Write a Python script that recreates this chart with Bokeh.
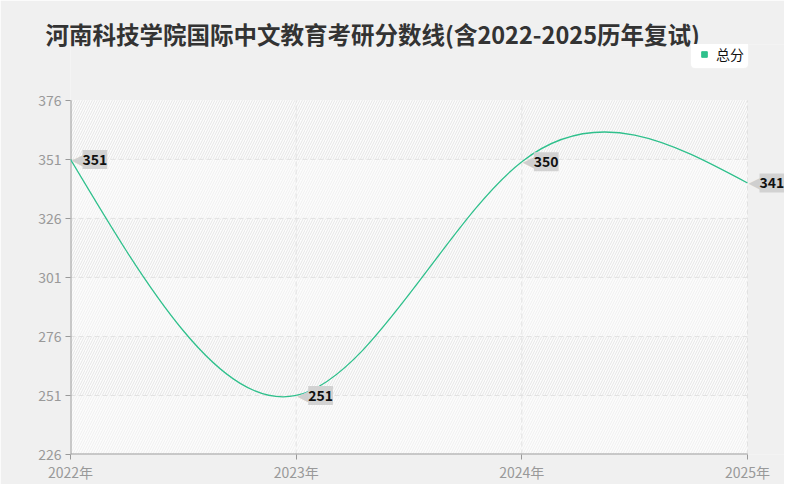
import numpy as np
from bokeh.embed import file_html
from bokeh.models import FixedTicker, Label, Legend, LegendItem, Range1d, Title
from bokeh.plotting import figure
from bokeh.resources import INLINE

TITLE = "河南科技学院国际中文教育考研分数线(含2022-2025历年复试)"
SERIES_NAME = "总分"
years = [2022, 2023, 2024, 2025]
year_labels = ["2022年", "2023年", "2024年", "2025年"]
scores = [351, 251, 350, 341]
y_ticks = [226, 251, 276, 301, 326, 351, 376]

FONT = "Noto Sans CJK SC"
GREEN = "#2fc08c"
AXIS = "#999999"
GRID = "#e2e2e2"
W, H = 784, 484
LEFT, BOTTOM = 70, 29
FRAME_TOP = 44      # frame reaches up to hold the legend
PLOT_TOP = 100      # where the top tick sits
PLOT_W = 677        # pixels from first to last year


def natural_spline_beziers(xs, ys):
    """Cubic Bezier pieces of the natural cubic spline through (xs, ys)."""
    xs = np.asarray(xs, dtype=float)
    ys = np.asarray(ys, dtype=float)
    n = len(xs)
    h = np.diff(xs)
    a = np.zeros((n, n))
    b = np.zeros(n)
    a[0, 0] = a[-1, -1] = 1.0
    for i in range(1, n - 1):
        a[i, i - 1] = h[i - 1]
        a[i, i] = 2 * (h[i - 1] + h[i])
        a[i, i + 1] = h[i]
        b[i] = 6 * ((ys[i + 1] - ys[i]) / h[i] - (ys[i] - ys[i - 1]) / h[i - 1])
    m = np.linalg.solve(a, b)
    out = {k: [] for k in ("x0", "y0", "x1", "y1", "cx0", "cy0", "cx1", "cy1")}
    for i in range(n - 1):
        slope = (ys[i + 1] - ys[i]) / h[i]
        d0 = slope - h[i] * (2 * m[i] + m[i + 1]) / 6
        d1 = slope + h[i] * (m[i] + 2 * m[i + 1]) / 6
        out["x0"].append(xs[i])
        out["y0"].append(ys[i])
        out["x1"].append(xs[i + 1])
        out["y1"].append(ys[i + 1])
        out["cx0"].append(xs[i] + h[i] / 3)
        out["cy0"].append(ys[i] + d0 * h[i] / 3)
        out["cx1"].append(xs[i + 1] - h[i] / 3)
        out["cy1"].append(ys[i + 1] - d1 * h[i] / 3)
    return out


# the frame runs past the plot area (right and top) so the last value tag
# and the legend are not clipped
x_span = years[-1] - years[0]
x_end = years[0] + x_span * (W - LEFT) / PLOT_W
y_span = y_ticks[-1] - y_ticks[0]
plot_h = H - BOTTOM - PLOT_TOP
y_end = y_ticks[0] + y_span * (H - BOTTOM - FRAME_TOP) / plot_h

p = figure(
    width=W,
    height=H,
    title=None,
    output_backend="svg",
    toolbar_location=None,
    x_range=Range1d(years[0], x_end),
    y_range=Range1d(y_ticks[0], y_end),
    min_border_left=LEFT,
    min_border_right=0,
    min_border_top=FRAME_TOP,
    min_border_bottom=BOTTOM,
    border_fill_color="#f0f0f0",
    background_fill_color="#f0f0f0",
    outline_line_color=None,
)

# striped, hatched bands between the y ticks
for i in range(len(y_ticks) - 1):
    dark = (len(y_ticks) - 2 - i) % 2 == 0
    p.quad(
        left=years[0], right=years[-1], bottom=y_ticks[i], top=y_ticks[i + 1],
        fill_color="#fcfcfc", line_color=None,
        hatch_pattern="/", hatch_scale=5, hatch_weight=1,
        hatch_color="#e6e6e6" if dark else "#f0f0f0",
        level="image",
    )

# dashed grid, only across the plot area
p.segment(x0=years[0], x1=years[-1], y0=y_ticks[1:-1], y1=y_ticks[1:-1],
          line_color=GRID, line_dash="5 3", line_width=1, level="underlay")
p.segment(x0=years[1:], x1=years[1:], y0=y_ticks[0], y1=y_ticks[-1],
          line_color=GRID, line_dash="5 3", line_width=1, level="underlay")
# axis lines, only along the plot area
p.segment(x0=[years[0]], x1=[years[-1]], y0=[y_ticks[0]], y1=[y_ticks[0]],
          line_color=AXIS, line_width=2)
p.segment(x0=[years[0]], x1=[years[0]], y0=[y_ticks[0]], y1=[y_ticks[-1]],
          line_color=AXIS, line_width=2)

# smooth line
p.bezier(source=natural_spline_beziers(years, scores), x0="x0", y0="y0",
         x1="x1", y1="y1", cx0="cx0", cy0="cy0", cx1="cx1", cy1="cy1",
         line_color=GREEN, line_width=1.3)

# zero-size markers on the points: only their legend swatch shows
legend_marker = p.scatter(x=years, y=scores, size=0, marker="square",
                          color=GREEN)

# value tags
for x, y in zip(years, scores):
    p.add_layout(Label(
        x=x, y=y, x_offset=1, text="◀", text_align="left", text_baseline="middle",
        text_color="#cfcfcf", text_font="DejaVu Sans", text_font_size="16px",
    ))
    p.add_layout(Label(
        x=x, y=y, x_offset=12, text=str(y), text_align="left", text_baseline="middle",
        text_color="#111111", text_font=FONT, text_font_size="14px",
        text_font_style="bold", background_fill_color="#d2d2d2",
        padding=(0, 4),
    ))

# axes
for ax in (p.xaxis, p.yaxis):
    ax.axis_line_color = None
    ax.major_tick_line_color = AXIS
    ax.major_tick_in = 0
    ax.major_tick_out = 5
    ax.minor_tick_line_color = None
    ax.major_label_text_color = AXIS
    ax.major_label_text_font = FONT
    ax.major_label_text_font_size = "14px"
p.yaxis.major_label_standoff = 4
p.xaxis.major_label_standoff = 2

p.xaxis.ticker = FixedTicker(ticks=years)
p.xaxis.major_label_overrides = {y: lab for y, lab in zip(years, year_labels)}
p.yaxis.ticker = FixedTicker(ticks=y_ticks)
p.xgrid.grid_line_color = None
p.ygrid.grid_line_color = None

legend = Legend(
    items=[LegendItem(label=SERIES_NAME, renderers=[legend_marker])],
    location=(620, H - BOTTOM - FRAME_TOP - 26),
    margin=0,
    padding=4,
    spacing=0,
    glyph_width=18,
    glyph_height=14,
    label_height=14,
    label_text_font=FONT,
    label_text_font_size="14px",
    label_text_color="#111111",
    label_standoff=3,
    background_fill_color="#ffffff",
    background_fill_alpha=1,
    border_line_color="#e6e6e6",
    border_radius=5,
)
p.add_layout(legend)

p.add_layout(Title(
    text=TITLE, align="left", offset=-25, standoff=-12,
    text_color="#333333", text_font=FONT, text_font_size="23.5px",
    text_font_style="bold",
), "above")

open("out.html", "w").write(file_html(p, INLINE))
